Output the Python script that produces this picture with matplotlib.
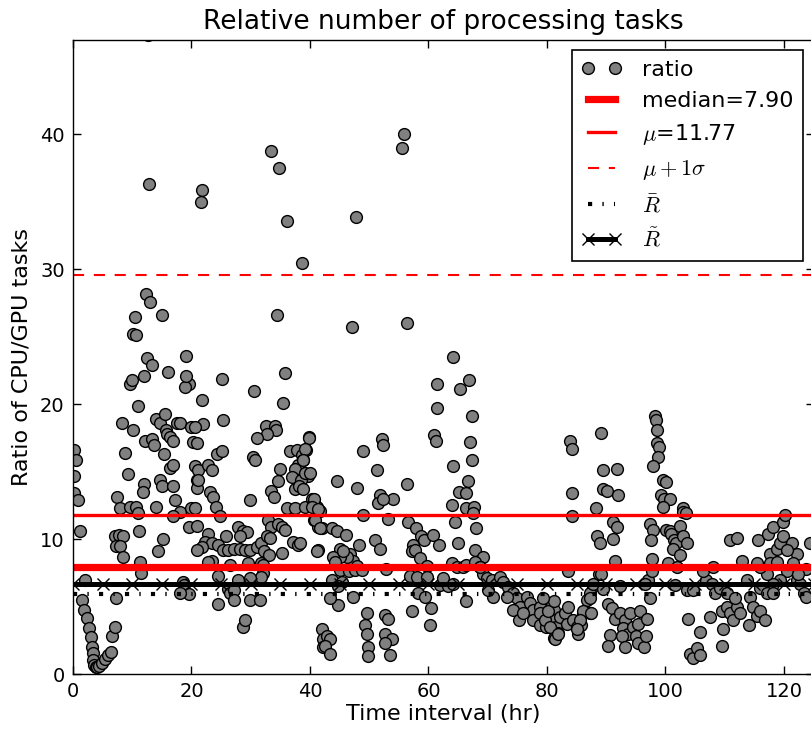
import matplotlib
matplotlib.use("Agg")
import matplotlib.pyplot as plt
import numpy as np

# ratio of CPU/GPU tasks in time windows
hours_a = [0.15, 0.5, 0.15, 0.2, 0.9, 1.2, 2.0, 1.46, 1.86, 2.3, 2.75, 2.98, 3.15, 3.32,
           3.43, 3.6, 3.88, 4.1, 4.44, 4.84, 5.4, 5.96, 6.36, 6.6, 7.1, 7.2,
           8.2, 10.1, 10.9, 9.7, 8.8, 9.2, 7.5, 7.9, 9.6, 10.6, 11.0, 11.9, 11.8, 12.2,
           13.3, 13.7, 14.0, 14.6, 15.5, 15.7, 15.9, 16.4, 16.9, 17.5, 18.1, 15.4, 16.4,
           16.9, 14.7, 15.0, 16.8, 17.2, 14.0, 18.1, 16.9, 11.2, 15.2, 14.3, 7.1, 7.8,
           8.5, 7.3, 7.9, 8.4, 11.3, 11.4, 18.6, 18.7, 19.5, 18.1, 19.6, 18.9, 20.0,
           20.3, 20.6, 20.9, 20.9, 20.0, 19.6,
           12.9, 12.3, 13.0, 10.5, 10.1, 10.6, 15.1, 12.5, 13.3, 12.0, 9.9, 16.0, 19.1,
           19.1, 12.7]
ratio_a = [16.6, 15.9, 14.7, 13.4, 12.9, 10.6, 7.0, 5.48, 4.74, 4.13, 3.39, 2.77, 2.02, 1.53,
           1.04, 0.67, 0.54, 0.5, 0.59, 0.79, 1.09, 1.41, 1.65, 2.8, 3.5, 5.6,
           18.6, 18.1, 19.9, 21.5, 16.4, 14.8, 13.1, 12.3, 12.4, 12.4, 11.9, 14.1, 13.5, 17.3,
           17.4, 17.0, 18.9, 18.6, 19.3, 18.1, 17.8, 17.6, 17.3, 18.6, 18.6, 16.3, 15.3,
           15.5, 14.4, 13.9, 13.9, 12.9, 12.4, 12.0, 11.7, 10.6, 10.0, 9.1, 10.2, 10.3,
           10.2, 9.5, 9.5, 8.7, 8.3, 7.5, 6.8, 6.6, 5.9, 6.0, 21.5, 21.3, 18.3,
           17.2, 15.4, 14.4, 13.8, 12.3, 10.9,
           36.3, 28.2, 27.6, 26.5, 25.2, 25.1, 26.6, 23.4, 22.9, 22.1, 21.8, 22.4, 23.6,
           22.1, 47.4]

hours_b = [21.7, 21.6, 25.1, 33.4, 34.7, 36.2, 38.7, 34.4, 35.8,
           30.6, 35.5, 21.8, 22.0, 25.4, 20.6, 20.9, 32.5, 34.1, 34.3, 32.7, 31.0, 39.9,
           24.3, 25.2, 30.4, 30.7, 34.9, 36.6, 37.8, 38.6, 39.3, 38.9, 37.9, 37.5, 36.9,
           37.5, 39.2, 39.7, 38.5, 38.1, 21.1, 21.1, 22.8, 23.4, 23.1, 23.7, 24.1, 24.8,
           20.6, 20.9, 29.8, 34.6, 33.5, 34.0, 36.1, 37.5, 39.2, 40.3, 40.6, 41.1, 41.7,
           40.6, 41.4, 42.0, 32.9, 33.5, 34.6, 35.2, 35.8, 27.9, 28.7, 29.3, 28.2, 25.9,
           22.8, 22.3, 23.4, 21.7, 20.9,
           24.5, 25.4, 26.2, 27.2, 28.2, 29.0, 29.9, 31.0, 31.8, 32.7, 33.2, 32.3, 33.0,
           35.2, 37.2, 38.0, 41.3, 23.4, 22.8, 26.5, 29.6, 31.8, 32.1, 32.1, 31.8, 29.9,
           27.9, 24.5, 26.2, 26.5, 27.2, 27.2, 29.9, 31.6, 24.4, 28.7, 29.0, 42.0, 42.2,
           42.2]
ratio_b = [35.9, 35.0, 21.9, 38.8, 37.5, 33.6, 30.5, 26.6, 22.3,
           21.0, 20.1, 20.3, 18.5, 18.8, 18.3, 17.1, 18.4, 18.4, 18.1, 17.8, 17.5, 17.6,
           16.3, 16.5, 16.1, 15.9, 15.2, 16.5, 16.6, 16.2, 16.6, 15.9, 15.5, 15.2, 14.6,
           13.7, 14.8, 14.7, 14.4, 13.9, 15.1, 14.4, 15.5, 15.1, 13.5, 13.1, 12.4, 11.7,
           12.3, 11.0, 12.9, 14.3, 13.6, 13.1, 12.3, 12.3, 12.4, 13.0, 12.7, 12.4, 12.1,
           11.4, 10.9, 10.8, 11.4, 10.9, 11.1, 10.9, 10.7, 10.9, 10.6, 10.5, 10.2, 10.2,
           10.4, 9.8, 9.7, 9.4, 9.2,
           9.6, 9.2, 9.2, 9.3, 9.3, 9.2, 9.2, 9.4, 9.7, 10.2, 10.1, 9.1, 8.8,
           9.0, 9.8, 9.6, 9.2, 8.4, 8.3, 8.1, 8.2, 8.2, 8.1, 7.5, 7.2, 7.1,
           7.0, 7.3, 6.3, 6.0, 6.2, 5.5, 5.5, 5.5, 5.2, 3.5, 4.0, 3.3, 2.6,
           2.0]

hours_c = [47.8, 47.1, 55.8, 55.6, 56.3, 64.1, 61.5, 66.9, 65.4,
           61.4, 61.0, 61.3, 67.3, 67.0, 67.3, 66.7, 65.2, 66.3, 64.2, 63.9, 66.4, 67.7, 64.5,
           67.5, 68.1, 65.0, 67.8, 69.2,
           39.9, 39.2, 38.9, 39.2, 40.0, 38.9, 40.6, 40.3, 41.4, 40.9, 41.7, 43.7, 44.5,
           46.1, 45.0, 41.1, 38.3, 44.5, 47.9, 48.9, 51.3, 52.1, 52.3, 51.8, 51.4, 54.0,
           52.4, 49.0, 53.2, 56.4,
           56.6, 57.9, 58.8, 59.2, 60.8, 61.7, 57.4, 57.2, 57.7, 58.6, 59.7, 56.9, 58.0, 59.7,
           63.9, 64.8, 65.9, 66.4, 67.8, 68.7, 69.2,
           51.0, 51.8, 48.2, 46.8, 47.3, 47.9, 46.2, 45.1, 43.9, 45.6, 44.2, 45.1, 46.5,
           47.6, 48.7, 43.7, 45.4, 44.8, 52.9,
           47.3, 44.8, 43.4, 57.2, 58.3, 59.4, 60.5, 60.3, 61.9, 63.3, 66.4, 62.5, 64.2,
           49.6, 49.3, 49.6, 49.8, 49.8, 52.7, 53.2, 52.7, 53.8, 52.7, 53.5, 42.8, 43.4,
           42.5, 43.3]
ratio_c = [33.9, 25.7, 40.0, 39.0, 26.0, 23.5, 21.5, 21.8, 21.1,
           19.7, 17.7, 17.3, 19.1, 17.2, 15.9, 14.3, 13.5, 13.4, 15.4, 12.5, 12.3, 12.4, 11.3,
           11.9, 10.8, 9.7, 9.2, 8.7,
           17.5, 16.7, 15.9, 14.9, 14.9, 13.7, 13.0, 12.4, 12.2, 11.4, 10.8, 10.8, 10.6,
           10.3, 9.3, 9.1, 9.7, 14.3, 13.8, 16.5, 15.1, 17.4, 17.0, 13.3, 12.7, 13.0,
           13.0, 11.8, 11.5, 14.1,
           11.3, 10.8, 10.2, 9.9, 10.3, 9.6, 9.6, 9.1, 9.2, 8.6, 8.0, 7.3, 7.2, 7.2,
           8.2, 7.9, 7.9, 8.1, 8.3, 7.9, 7.4,
           9.9, 9.3, 9.6, 8.9, 8.4, 8.0, 8.7, 8.7, 8.7, 9.1, 8.3, 7.7, 7.6,
           7.7, 7.7, 7.0, 6.8, 6.5, 7.8,
           5.7, 5.1, 5.6, 4.7, 6.0, 5.7, 4.9, 3.6, 6.6, 6.5, 5.4, 7.1, 6.7,
           4.5, 3.6, 3.0, 2.0, 1.3, 4.4, 4.1, 3.0, 2.6, 2.3, 1.4, 2.8, 2.6,
           2.1, 1.5]

hours_d = [68.7, 69.8, 70.7, 72.1, 72.6, 73.5, 74.3, 74.9, 75.4, 76.6, 77.1, 77.7, 78.8,
           79.9, 80.8, 81.1, 81.4, 81.6, 81.1, 81.9, 70.9, 70.1, 73.2, 74.3, 75.2, 76.0,
           77.7, 78.8, 79.9,
           78.8, 79.7, 80.5, 81.4, 81.9, 80.2, 81.1, 79.4, 82.2, 83.0, 83.3, 84.4, 85.0,
           85.3, 85.8, 86.1, 86.4, 87.3, 83.6,
           83.9, 84.2, 84.2, 84.3, 83.6, 88.3, 89.2, 89.4, 89.5, 90.1, 91.9, 92.0, 91.2,
           91.8, 91.1, 88.5, 88.9, 91.5,
           88.8, 87.8, 87.3, 86.7, 86.1, 85.6, 85.0, 87.3, 87.8, 87.5]
ratio_d = [7.95, 7.09, 6.96, 7.21, 6.84, 6.47, 5.98, 5.6, 4.99, 5.73, 5.24, 4.74, 4.99,
           4.5, 5.24, 4.74, 4.0, 3.5, 2.64, 3.01, 5.73, 6.22, 5.73, 4.74, 4.0, 4.5,
           4.0, 3.63, 3.5,
           4.5, 4.0, 3.5, 2.6, 3.0, 4.7, 5.4, 5.6, 4.2, 4.5, 3.7, 4.0, 3.5,
           3.0, 3.6, 4.5, 4.7, 4.5, 5.0,
           17.3, 16.7, 13.4, 11.7, 7.6, 12.3, 17.9, 15.1, 13.7, 13.6, 15.2, 13.3, 11.3,
           10.9, 10.0, 10.2, 9.7, 8.4,
           7.4, 6.5, 6.0, 5.5, 4.7, 4.0, 3.3, 5.6, 6.7, 4.5]

hours_e = [90.3, 90.9, 91.5, 92.3, 93.2, 94.0, 92.9, 93.7, 94.6, 95.4, 95.7, 96.8, 92.6,
           93.2, 90.6, 90.3, 95.1, 95.4, 96.3, 96.7, 97.1, 97.4,
           98.2, 98.4, 98.6, 98.5, 98.9, 98.7, 97.9, 99.5, 100.1, 99.2, 99.7, 100.8, 99.5,
           103.0, 102.9, 103.5, 97.4, 97.9, 97.5, 100.1, 100.7, 101.0, 101.4, 101.8, 102.5,
           103.0, 103.6, 101.2, 102.5, 97.7, 100.5, 101.9, 101.6, 103.6, 97.7, 96.6, 92.3,
           89.2, 89.5,
           103.8, 105.8, 104.1, 104.7, 105.3, 105.8, 109.5, 109.7, 107.5,
           104.7, 106.9, 106.4, 108.1, 107.8, 108.4, 109.2, 110.3, 109.5, 110.3, 110.9,
           111.4, 112.0, 112.6, 111.7, 112.9, 113.7, 114.3, 114.8, 115.4, 115.9, 116.8,
           114.1, 110.9, 112.0, 115.7, 117.3, 118.2, 117.6, 118.8, 119.3, 119.9, 119.8,
           120.2, 121.3, 122.2, 121.6, 120.5, 119.3, 118.2, 117.1, 115.9, 115.4, 117.6,
           118.8, 120.5, 115.9, 117.1, 118.2, 122.2, 122.7, 123.3, 123.8, 124.4, 123.8,
           122.4]
ratio_e = [5.2, 4.9, 4.1, 4.5, 4.0, 4.5, 3.4, 3.0, 3.5, 3.7, 4.7, 4.1, 2.8,
           2.0, 2.9, 2.1, 2.8, 2.3, 2.0, 2.8, 7.0, 5.6,
           19.1, 18.8, 18.1, 17.1, 16.8, 16.1, 15.4, 14.4, 14.2, 13.3, 13.0, 13.0, 12.4,
           12.3, 12.0, 11.9, 11.1, 10.7, 9.9, 10.7, 10.6, 10.4, 9.9, 9.7, 11.0,
           10.2, 9.7, 9.3, 8.8, 8.5, 8.2, 7.9, 6.6, 6.2, 7.6, 6.7, 6.5,
           7.4, 6.3,
           4.1, 3.1, 1.5, 1.2, 1.9, 1.4, 2.1, 3.3, 4.2,
           6.2, 7.0, 7.6, 7.9, 6.7, 6.0, 6.4, 6.0, 4.7, 5.0, 4.5,
           4.0, 5.0, 4.5, 5.6, 8.4, 7.0, 5.7, 5.0, 4.3, 4.7, 4.0,
           3.6, 9.9, 10.1, 9.9, 10.4, 10.9, 8.9, 9.3, 9.7, 10.2, 11.3,
           11.8, 9.7, 8.9, 8.2, 7.6, 7.0, 6.7, 7.4, 7.9, 8.2, 8.2,
           8.3, 9.2, 6.4, 6.0, 6.0, 7.0, 6.7, 6.0, 5.7, 9.7, 7.8,
           7.4]

median_val = 7.90
mean_val = 11.77
mean_plus_sigma = 29.56
r_bar = 5.90
r_tilde = 6.70

hours = np.concatenate([hours_a, hours_b, hours_c, hours_d, hours_e])
ratio = np.concatenate([ratio_a, ratio_b, ratio_c, ratio_d, ratio_e])

plt.rcParams['font.family'] = 'DejaVu Sans'
plt.rcParams['mathtext.fontset'] = 'cm'
plt.rcParams['lines.scale_dashes'] = False

fig = plt.figure(figsize=(8.11, 7.32), dpi=100)
ax = fig.add_axes([73/811., 58/732., 740.6/811., 634/732.])

ax.plot(hours, ratio, linestyle='none', marker='o', ms=8.5, mfc='#808080',
        mec='black', mew=1.0, label='ratio')
ax.axhline(median_val, color='red', lw=5.2, label='median=%.2f' % median_val)
ax.axhline(mean_val, color='red', lw=2.4, label=r'$\mu$=%.2f' % mean_val)
ax.axhline(mean_plus_sigma, color='red', lw=1.5, dashes=(8, 7), label=r'$\mu+1\sigma$')
ax.axhline(r_bar, color='black', lw=3, dashes=(3, 7.35, 1, 7.35), label=r'$\bar{R}$')
# median of ratios drawn as a line with x marks every 5 hours
tick_hours = np.arange(0, 126, 5)
ax.plot(tick_hours, [r_tilde]*len(tick_hours), color='black', lw=3.6, marker='x',
        ms=8, mew=1.0, label=r'$\tilde{R}$')

ax.set_xlim(0, 125)
ax.set_ylim(0, 47)
ax.set_xticks(range(0, 121, 20))
ax.set_yticks(range(0, 41, 10))
ax.tick_params(direction='in', top=True, right=True, length=5.5, width=1,
               labelsize=14, pad=6)
for s in ax.spines.values():
    s.set_linewidth(1.0)

ax.set_title("Relative number of processing tasks", fontsize=19, pad=8)
ax.set_xlabel("Time interval (hr)", fontsize=16, labelpad=2)
ax.set_ylabel("Ratio of CPU/GPU tasks", fontsize=16, labelpad=6)

leg = ax.legend(loc='upper right', bbox_to_anchor=(803/811., 1 - 50/732.),
                bbox_transform=fig.transFigure, borderaxespad=0, numpoints=2,
                fontsize=16, fancybox=False, framealpha=1, handlelength=1.8,
                handletextpad=0.9, labelspacing=0.5, borderpad=0.45)
leg.get_frame().set_edgecolor('black')
leg.get_frame().set_linewidth(1.2)

fig.savefig("out.png", dpi=100)
